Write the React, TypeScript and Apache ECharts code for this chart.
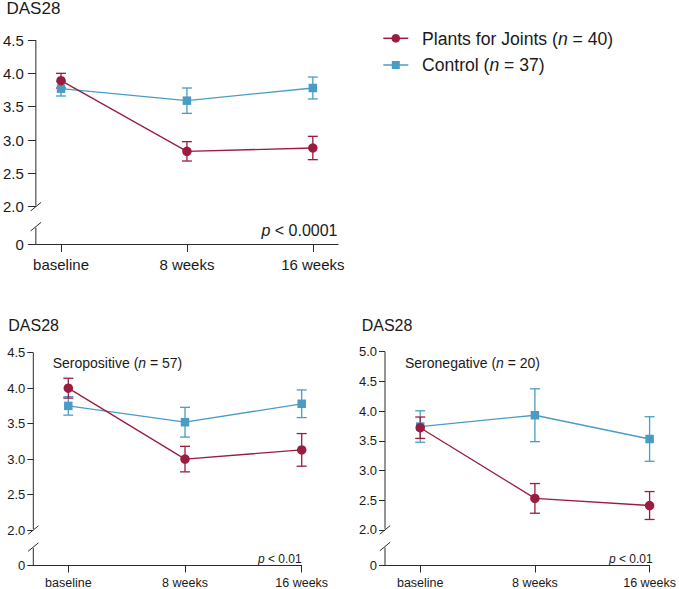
import React, { useEffect, useRef } from "react";
import * as echarts from "echarts";

// ---- data ----
const categories = ["baseline", "8 weeks", "16 weeks"];
const seriesNames = ["Plants for Joints", "Control"];
const groupSizes = [40, 37];

// All patients
const pfjAll = [3.89, 2.83, 2.88];
const pfjAllErr = [0.11, 0.145, 0.175];
const ctlAll = [3.77, 3.59, 3.78];
const ctlAllErr = [0.11, 0.19, 0.165];

// Seropositive (n = 57)
const pfjPos = [4.0, 3.0, 3.13];
const pfjPosErr = [0.14, 0.18, 0.23];
const ctlPos = [3.75, 3.52, 3.78];
const ctlPosErr = [0.13, 0.21, 0.195];

// Seronegative (n = 20)
const pfjNeg = [3.72, 2.53, 2.41];
const pfjNegErr = [0.18, 0.25, 0.235];
const ctlNeg = [3.74, 3.93, 3.53];
const ctlNegErr = [0.265, 0.445, 0.375];

const yTicksTop = [2.0, 2.5, 3.0, 3.5, 4.0, 4.5];
const yTicksPos = [2.0, 2.5, 3.0, 3.5, 4.0, 4.5];
const yTicksNeg = [2.0, 2.5, 3.0, 3.5, 4.0, 4.5, 5.0];
const zeroLabel = "0";
const yTitle = "DAS28";
const pTop = "0.0001";
const pPos = "0.01";
const pNeg = "0.01";
const subtitles = ["Seropositive", "Seronegative"];
const subSizes = [57, 20];

// ---- style ----
const RED = "#9c1c40";
const BLUE = "#4b9cc5";
const AXIS = "#2b2b2b";
const TXT = "#1a1a1a";
const FONT = "'Liberation Sans', Arial, Helvetica, sans-serif";

type Panel = {
  grid: any;
  xMin: number;
  xMax: number;
  yMin: number; // display position of "0"
  yMax: number;
  breakLo: number;
  ticks: number[];
  yFont: number;
  xFont: number;
  yTickLen: number;
  xTickLen: number;
  yMargin: number;
  xMargin: number;
  pfj: number[];
  pfjErr: number[];
  ctl: number[];
  ctlErr: number[];
};

const panels: Panel[] = [
  {
    grid: { left: 33.3, right: 341, top: 40, bottom: 345 },
    xMin: -0.2, xMax: 2.2, yMin: 1.44, yMax: 4.5, breakLo: 1.7,
    ticks: yTicksTop, yFont: 15, xFont: 15, yTickLen: 8, xTickLen: 8, yMargin: 12, xMargin: 13,
    pfj: pfjAll, pfjErr: pfjAllErr, ctl: ctlAll, ctlErr: ctlAllErr,
  },
  {
    grid: { left: 33.3, right: 377.3, top: 352.7, bottom: 21.5 },
    xMin: -0.3, xMax: 2, yMin: 1.5, yMax: 4.5, breakLo: 1.76,
    ticks: yTicksPos, yFont: 13, xFont: 12.5, yTickLen: 6, xTickLen: 7, yMargin: 8, xMargin: 10.5,
    pfj: pfjPos, pfjErr: pfjPosErr, ctl: ctlPos, ctlErr: ctlPosErr,
  },
  {
    grid: { left: 385, right: 26, top: 351.7, bottom: 21.5 },
    xMin: -0.307, xMax: 2, yMin: 1.4, yMax: 5.0, breakLo: 1.72,
    ticks: yTicksNeg, yFont: 13, xFont: 12.5, yTickLen: 6, xTickLen: 7, yMargin: 8, xMargin: 10.5,
    pfj: pfjNeg, pfjErr: pfjNegErr, ctl: ctlNeg, ctlErr: ctlNegErr,
  },
];

function lineData(vals: number[]) {
  return vals.map((v, i) => [i, v]);
}
function errData(vals: number[], err: number[]) {
  return vals.map((v, i) => [i, v - err[i], v + err[i]]);
}

function errSeries(idx: number, vals: number[], err: number[], color: string) {
  return {
    type: "custom",
    xAxisIndex: idx,
    yAxisIndex: idx,
    z: 1,
    silent: true,
    clip: false,
    encode: { x: 0, y: [1, 2] },
    data: errData(vals, err),
    renderItem: (params: any, api: any) => {
      const x = api.value(0);
      const lo = api.coord([x, api.value(1)]);
      const hi = api.coord([x, api.value(2)]);
      const w = 5;
      const st = { stroke: color, lineWidth: 1.3, fill: null };
      return {
        type: "group",
        children: [
          { type: "line", shape: { x1: lo[0], y1: lo[1], x2: hi[0], y2: hi[1] }, style: st },
          { type: "line", shape: { x1: lo[0] - w, y1: lo[1], x2: lo[0] + w, y2: lo[1] }, style: st },
          { type: "line", shape: { x1: hi[0] - w, y1: hi[1], x2: hi[0] + w, y2: hi[1] }, style: st },
        ],
      };
    },
  };
}

function axisBreakSeries(idx: number, p: Panel) {
  return {
    type: "custom",
    xAxisIndex: idx,
    yAxisIndex: idx,
    z: 3,
    silent: true,
    clip: false,
    data: [[p.xMin, p.yMin]],
    renderItem: (params: any, api: any) => {
      const top = api.coord([p.xMin, p.yMax]);
      const hi = api.coord([p.xMin, 2.0]);
      const lo = api.coord([p.xMin, p.breakLo]);
      const bot = api.coord([p.xMin, p.yMin]);
      const st = { stroke: AXIS, lineWidth: 1, fill: null };
      const dx = 5.2, dy = 4.3;
      return {
        type: "group",
        children: [
          { type: "line", shape: { x1: top[0], y1: top[1], x2: hi[0], y2: hi[1] - 1 }, style: st },
          { type: "line", shape: { x1: hi[0] - dx, y1: hi[1] + dy, x2: hi[0] + dx, y2: hi[1] - dy }, style: st },
          { type: "line", shape: { x1: lo[0] - dx, y1: lo[1] + dy, x2: lo[0] + dx, y2: lo[1] - dy }, style: st },
          { type: "line", shape: { x1: lo[0], y1: lo[1] + 1, x2: bot[0], y2: bot[1] }, style: st },
        ],
      };
    },
  };
}

function buildOption() {
  const grids = panels.map((p) => ({ ...p.grid, containLabel: false }));
  const xAxes = panels.map((p, i) => ({
    type: "value",
    gridIndex: i,
    min: p.xMin,
    max: p.xMax,
    splitLine: { show: false },
    axisLine: { show: true, onZero: false, lineStyle: { color: AXIS, width: 1 } },
    axisTick: { show: true, customValues: [0, 1, 2], length: p.xTickLen, lineStyle: { color: AXIS } },
    axisLabel: {
      show: true,
      customValues: [0, 1, 2],
      margin: p.xMargin,
      fontSize: p.xFont,
      fontFamily: FONT,
      color: TXT,
      formatter: (v: number) => categories[Math.round(v)] ?? "",
    },
  }));
  const yAxes = panels.map((p, i) => {
    const vals = [p.yMin, ...p.ticks];
    return {
      type: "value",
      gridIndex: i,
      min: p.yMin,
      max: p.yMax,
      splitLine: { show: false },
      axisLine: { show: false, onZero: false },
      axisTick: { show: true, customValues: vals, length: p.yTickLen, lineStyle: { color: AXIS } },
      axisLabel: {
        show: true,
        customValues: vals,
        margin: p.yMargin,
        fontSize: p.yFont,
        fontFamily: FONT,
        color: TXT,
        formatter: (v: number) => (v < 1.9 ? zeroLabel : v.toFixed(1)),
      },
    };
  });

  const series: any[] = [];
  panels.forEach((p, i) => {
    series.push(axisBreakSeries(i, p));
    series.push(errSeries(i, p.ctl, p.ctlErr, BLUE));
    series.push(errSeries(i, p.pfj, p.pfjErr, RED));
    series.push({
      type: "line",
      name: seriesNames[1],
      xAxisIndex: i,
      yAxisIndex: i,
      data: lineData(p.ctl),
      symbol: "rect",
      symbolSize: 8.5,
      z: 2,
      lineStyle: { color: BLUE, width: 1.3 },
      itemStyle: { color: BLUE },
    });
    series.push({
      type: "line",
      name: seriesNames[0],
      xAxisIndex: i,
      yAxisIndex: i,
      data: lineData(p.pfj),
      symbol: "circle",
      symbolSize: 9.5,
      z: 3,
      lineStyle: { color: RED, width: 1.3 },
      itemStyle: { color: RED },
    });
  });

  const txt = (x: number, y: number, text: string, size: number, align: string, rich?: any) => ({
    type: "text",
    x,
    y,
    silent: true,
    style: {
      text,
      fill: TXT,
      fontSize: size,
      fontFamily: FONT,
      align,
      verticalAlign: "middle",
      rich,
    },
  });
  const italic = (size: number) => ({ i: { fontStyle: "italic", fontSize: size, fontFamily: FONT, fill: TXT } });

  const graphic: any[] = [
    txt(6.5, 8.5, yTitle, 17, "left"),
    txt(8.3, 325, yTitle, 16, "left"),
    txt(361.7, 325, yTitle, 16, "left"),
    txt(52.7, 363.3, `${subtitles[0]} ({i|n} = ${subSizes[0]})`, 14, "left", italic(14)),
    txt(405, 363.3, `${subtitles[1]} ({i|n} = ${subSizes[1]})`, 14, "left", italic(14)),
    txt(337.5, 230, `{i|p} < ${pTop}`, 16, "right", italic(16)),
    txt(301.7, 558.5, `{i|p} < ${pPos}`, 12, "right", italic(12)),
    txt(652.7, 558.5, `{i|p} < ${pNeg}`, 12, "right", italic(12)),
    // legend
    { type: "line", silent: true, shape: { x1: 383.3, y1: 38.3, x2: 408.3, y2: 38.3 }, style: { stroke: RED, lineWidth: 1.5 } },
    { type: "circle", silent: true, shape: { cx: 395.8, cy: 38.3, r: 4.3 }, style: { fill: RED } },
    txt(422, 38.5, `${seriesNames[0]} ({i|n} = ${groupSizes[0]})`, 17.6, "left", italic(17.6)),
    { type: "line", silent: true, shape: { x1: 383.3, y1: 65, x2: 408.3, y2: 65 }, style: { stroke: BLUE, lineWidth: 1.5 } },
    { type: "rect", silent: true, shape: { x: 391.8, y: 61, width: 8, height: 8 }, style: { fill: BLUE } },
    txt(422, 65.2, `${seriesNames[1]} ({i|n} = ${groupSizes[1]})`, 17.6, "left", italic(17.6)),
  ];

  return {
    animation: false,
    backgroundColor: "#ffffff",
    grid: grids,
    xAxis: xAxes,
    yAxis: yAxes,
    series,
    graphic,
  };
}

export default function App() {
  const ref = useRef<HTMLDivElement | null>(null);
  useEffect(() => {
    if (!ref.current) return;
    const chart = echarts.init(ref.current, undefined, { renderer: "svg" });
    chart.setOption(buildOption() as any);
    return () => chart.dispose();
  }, []);
  return (
    <div
      ref={ref}
      style={{ position: "absolute", left: 0, top: 0, width: 679, height: 589, background: "#fff" }}
    />
  );
}
